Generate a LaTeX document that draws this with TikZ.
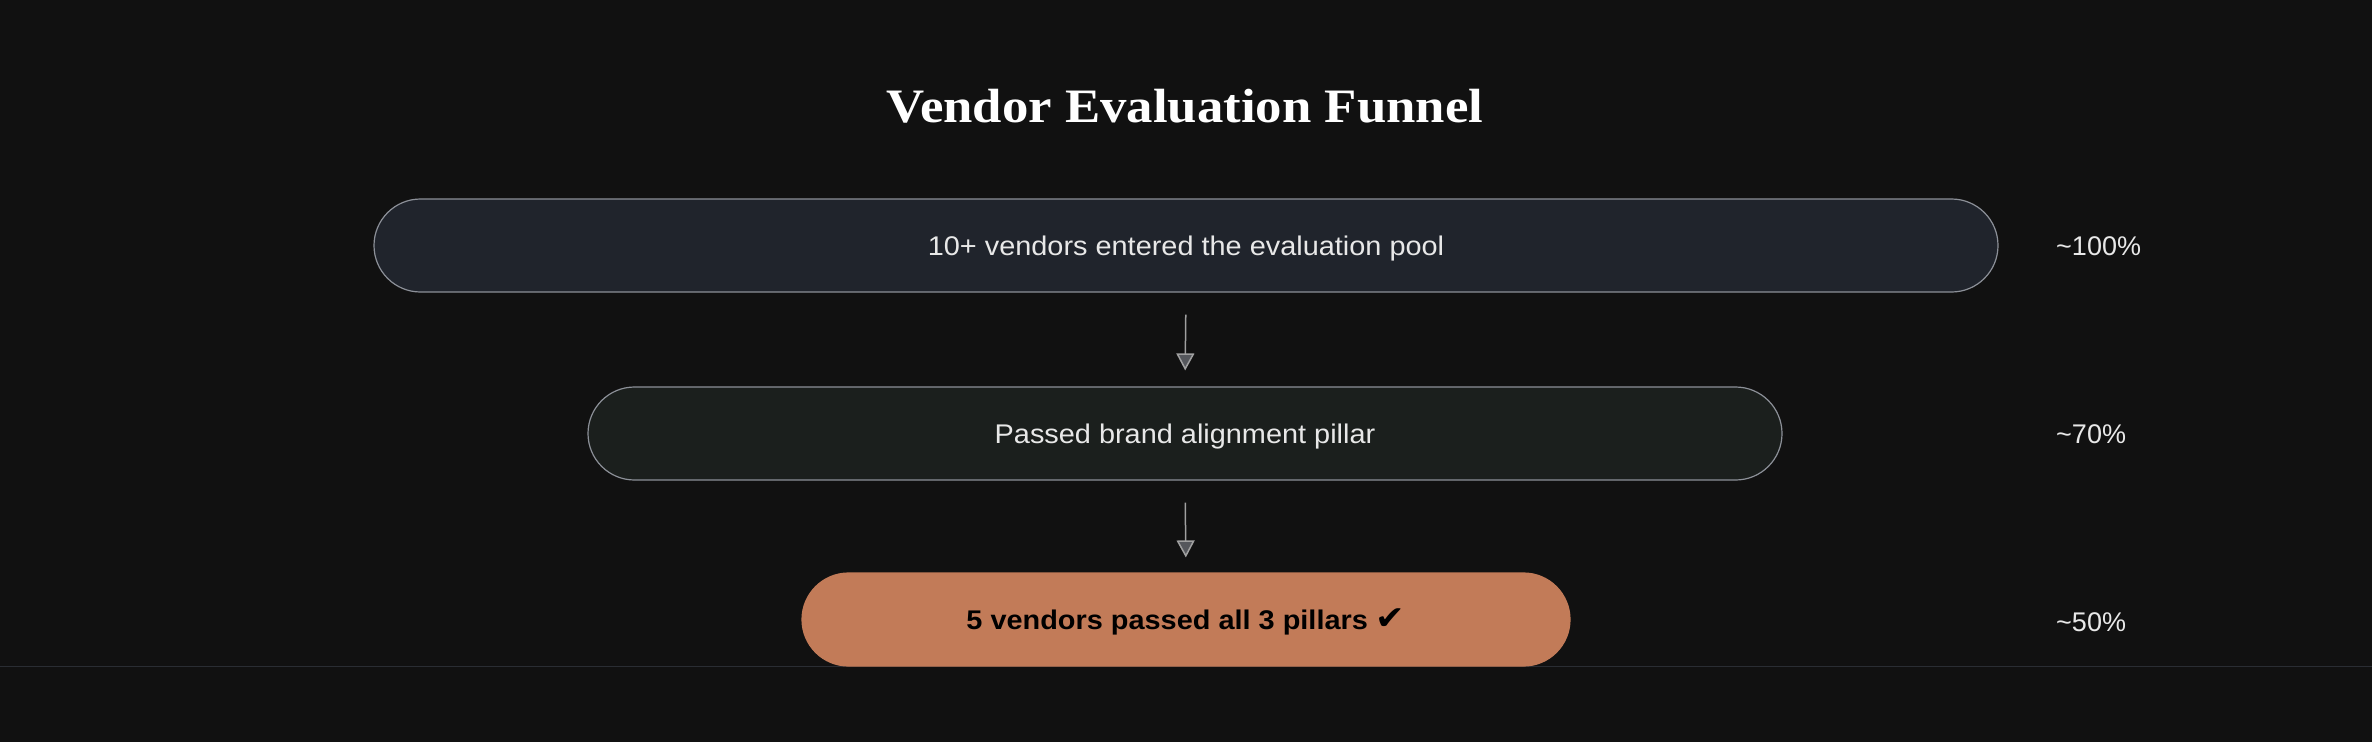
\documentclass[tikz,border=0pt]{standalone}
\usepackage{fontspec}
\setmainfont{Liberation Sans}
\newfontfamily\titlefont{Liberation Serif}
\newfontfamily\symfont{DejaVu Sans}
\usetikzlibrary{arrows.meta}
\definecolor{bg}{HTML}{111111}
\definecolor{boxA}{HTML}{20242C}
\definecolor{boxB}{HTML}{1B1F1D}
\definecolor{boxC}{HTML}{C27B58}
\definecolor{edgegray}{HTML}{8C9098}
\definecolor{txt}{HTML}{E8E8E8}
\definecolor{arrowline}{HTML}{A0A0A0}
\definecolor{arrowfill}{HTML}{55575C}
\definecolor{rule}{HTML}{2A2D33}
\newcommand{\wide}[1]{\scalebox{1.07}[1]{#1}}
\tikzset{
  pill/.style={rectangle, rounded corners=46.5pt, minimum height=93pt, line width=1.2pt, inner sep=0pt, text height=19.3pt, text depth=0pt, font=\fontsize{27}{32}\selectfont},
  stageA/.style={pill, fill=boxA, draw=edgegray, text=txt},
  stageB/.style={pill, fill=boxB, draw=edgegray, text=txt},
  stageC/.style={pill, fill=boxC, draw=boxC, text=black, font=\fontsize{27}{32}\selectfont\bfseries},
  pct/.style={anchor=west, text=txt, font=\fontsize{27}{32}\selectfont, inner sep=0pt, text height=19.3pt, text depth=0pt},
  flow/.style={draw=arrowline, line width=1.5pt, -{Triangle[length=17pt,width=18pt,fill=arrowfill]}},
}
\begin{document}
\begin{tikzpicture}[x=1pt,y=-1pt]
\fill[bg] (0,0) rectangle (2372,742);
\useasboundingbox (0,0) rectangle (2372,742);
\draw[rule, line width=1.5pt] (0,666.5) -- (2372,666.5);
\node[text=white, font=\titlefont\fontsize{48}{56}\selectfont\bfseries] (title) at (1185,106) {\scalebox{1.1}[1]{Vendor Evaluation Funnel}};
\node[stageA, minimum width=1624pt] (s1) at (1186,245.5) {\wide{10+ vendors entered the evaluation pool}};
\node[stageB, minimum width=1194pt] (s2) at (1185,433.5) {\wide{Passed brand alignment pillar}};
\node[stageC, minimum width=768pt] (s3) at (1186,619.5) {\wide{5 vendors passed all 3 pillars {\symfont\fontsize{33}{36}\selectfont ✔}}};
\node[pct] (p1) at (2056,246) {\textasciitilde100\%};
\node[pct] (p2) at (2056,434) {\textasciitilde70\%};
\node[pct] (p3) at (2056,622) {\textasciitilde50\%};
\draw[flow, shorten <=22pt, shorten >=16pt] (s1.south) -- (s2.north);
\draw[flow, shorten <=22pt, shorten >=15pt] (s2.south) -- (s3.north);
\end{tikzpicture}
\end{document}
